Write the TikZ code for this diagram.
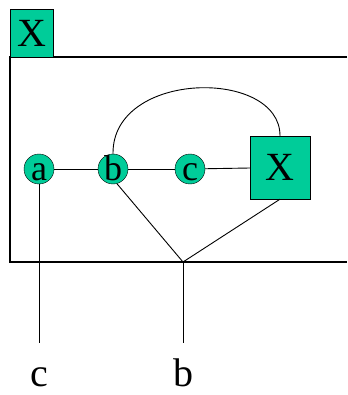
\documentclass[tikz,border=0pt]{standalone}
\usepackage{fontspec}
\setmainfont{Liberation Serif}
\usepackage{xcolor}
\usepackage{tikz}
\usetikzlibrary{calc,positioning}
\definecolor{platefill}{RGB}{0,204,153}
\newcommand\platevar[1]{\raisebox{-11pt}[0pt][0pt]{\makebox[0pt]{#1}}}
\tikzset{
  pvar/.style={circle, draw=black, fill=platefill, minimum size=30pt,
               inner sep=0pt, font=\fontsize{36}{38}\selectfont},
  pfac/.style={rectangle, draw=black, fill=platefill, inner sep=0pt,
               font=\fontsize{40}{42}\selectfont},
  pwire/.style={line width=0.9pt},
  pframe/.style={line width=1.3pt},
  plab/.style={font=\fontsize{40}{42}\selectfont, inner sep=0pt}
}
\begin{document}
\begin{tikzpicture}[x=1pt, y=-1pt]
  \useasboundingbox (0,0) rectangle (347,395);
  % plate frame, open to the right
  \coordinate (ftr) at (347,57);
  \coordinate (ftl) at (10,57);
  \coordinate (fbl) at (10,262);
  \coordinate (fbr) at (347,262);
  \draw[pframe] (ftr) -- (ftl) -- (fbl) -- (fbr);
  \node[pfac, minimum width=43pt, minimum height=48pt] (tag) at (31.5,33) {X};
  % variables and factor
  \node[pvar] (a) at (39,169) {\platevar{a}};
  \node[pvar] (b) at (113,169) {\platevar{b}};
  \node[pvar] (c) at (190,169) {\platevar{c}};
  \node[pfac, minimum width=60pt, minimum height=63pt] (fx) at (280,167.5) {X};
  \draw[pwire] (a) -- (b);
  \draw[pwire] (b) -- (c);
  \draw[pwire] (c) -- (fx);
  \draw[pwire] (b.north) .. controls (112,70) and (280,68) .. (fx.north);
  % outgoing wires
  \coordinate (join) at (183,262);
  \coordinate (bend) at (183,343);
  \coordinate (cend) at (39,343);
  \draw[pwire] (b.-75) -- (join);
  \draw[pwire] (fx.south) -- (join);
  \draw[pwire] (join) -- (bend);
  \draw[pwire] (a.south) -- (cend);
  \node[plab, anchor=base] (lc) at (39,386) {c};
  \node[plab, anchor=base] (lb) at (183,386) {b};
\end{tikzpicture}
\end{document}
